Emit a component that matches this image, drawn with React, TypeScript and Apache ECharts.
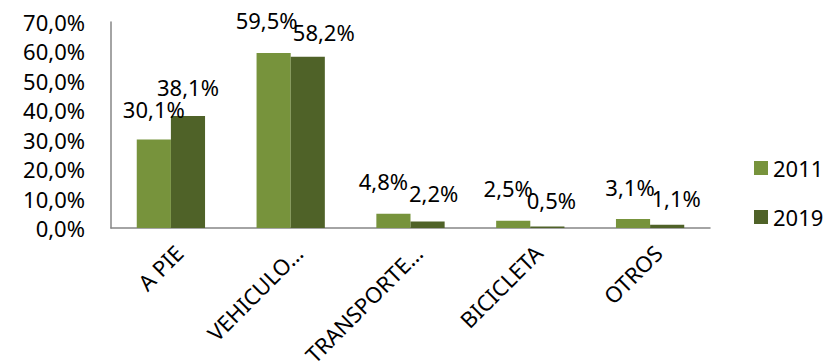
import React, { useEffect, useRef } from "react";
import * as echarts from "echarts";

const categories = ["A PIE", "VEHICULO…", "TRANSPORTE…", "BICICLETA", "OTROS"];
const seriesNames = ["2011", "2019"];
const values2011 = [30.1, 59.5, 4.8, 2.5, 3.1];
const values2019 = [38.1, 58.2, 2.2, 0.5, 1.1];
const colors = ["#77933C", "#4F6228"];

// Layout only: small label nudges (px) mimicking the original's overlap avoidance
const labelNudge2011: [number, number][] = [[0, 0], [-7, -3], [-10, -3], [-5, -3], [-3, -2]];
const labelNudge2019: [number, number][] = [[0, 1], [16, 5], [6, 1], [4, 3], [9, 3]];

const FONT = "Noto Sans";
const FS = 22;
const fmt = (v: number) => v.toFixed(1).replace(".", ",") + "%";

export default function App() {
  const ref = useRef<HTMLDivElement>(null);
  useEffect(() => {
    if (!ref.current) return;
    const chart = echarts.init(ref.current, null, { renderer: "svg" });
    const mkSeries = (name: string, data: number[], color: string, nudge: [number, number][]) => ({
      name,
      type: "bar",
      data: data.map((v, i) => ({ value: v, label: { offset: nudge[i] } })),
      barGap: "0%",
      barCategoryGap: "43%",
      itemStyle: { color },
      label: {
        show: true,
        position: "top",
        distance: 19,
        color: "#000",
        fontFamily: FONT,
        fontSize: FS,
        formatter: (p: any) => fmt(p.value),
      },
    });
    chart.setOption({
      animation: false,
      textStyle: { fontFamily: FONT },
      grid: {
        left: 111,
        right: 127,
        top: 22,
        bottom: 135,
        containLabel: false,
        outerBoundsMode: "none",
      },
      legend: {
        orient: "vertical",
        left: 749,
        top: 152,
        itemWidth: 14,
        itemHeight: 14,
        itemGap: 27,
        icon: "rect",
        textStyle: { fontFamily: FONT, fontSize: FS, color: "#000" },
        data: seriesNames,
      },
      xAxis: {
        type: "category",
        data: categories,
        axisLine: { show: true, lineStyle: { color: "#868686", width: 1.5 } },
        axisTick: { show: false },
        axisLabel: {
          rotate: 45,
          margin: 13,
          interval: 0,
          verticalAlign: "top",
          color: "#000",
          fontFamily: FONT,
          fontSize: FS,
        },
      },
      yAxis: {
        type: "value",
        min: 0,
        max: 70,
        interval: 10,
        axisLine: { show: true, lineStyle: { color: "#868686", width: 1.5 } },
        axisTick: { show: false },
        splitLine: { show: false },
        axisLabel: {
          margin: 26,
          color: "#000",
          fontFamily: FONT,
          fontSize: FS,
          formatter: (v: number) => fmt(v),
        },
      },
      series: [
        mkSeries(seriesNames[0], values2011, colors[0], labelNudge2011),
        mkSeries(seriesNames[1], values2019, colors[1], labelNudge2019),
      ],
    });
    return () => chart.dispose();
  }, []);
  return (
    <div
      ref={ref}
      style={{ position: "fixed", left: 0, top: 0, width: 837, height: 363, background: "#fff" }}
    />
  );
}
